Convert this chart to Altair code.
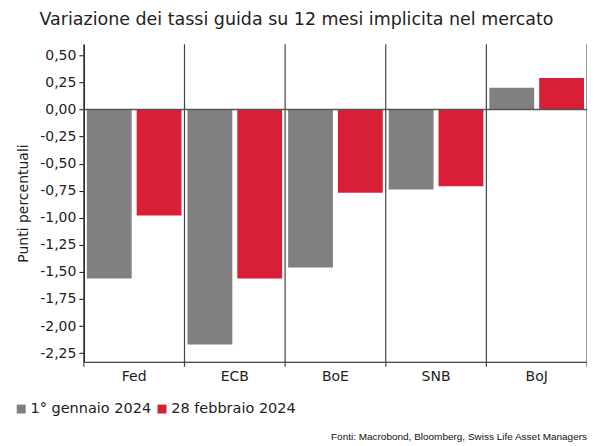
import altair as alt
import pandas as pd

categories = ["Fed", "ECB", "BoE", "SNB", "BoJ"]
series_names = ["1° gennaio 2024", "28 febbraio 2024"]
values_jan = [-1.56, -2.17, -1.46, -0.74, 0.20]
values_feb = [-0.98, -1.56, -0.77, -0.71, 0.29]
y_ticks = [0.5, 0.25, 0.0, -0.25, -0.5, -0.75, -1.0, -1.25, -1.5, -1.75, -2.0, -2.25]
title_text = "Variazione dei tassi guida su 12 mesi implicita nel mercato"
y_title = "Punti percentuali"
source_text = "Fonti: Macrobond, Bloomberg, Swiss Life Asset Managers"
colors = ["#808080", "#D91F36"]

rows = []
for c, a, b in zip(categories, values_jan, values_feb):
    rows.append({"cat": c, "serie": series_names[0], "val": a})
    rows.append({"cat": c, "serie": series_names[1], "val": b})
df = pd.DataFrame(rows)

W, H = 504, 318
FONT = "DejaVu Sans"

x_scale = alt.Scale(domain=categories, paddingInner=0, paddingOuter=0)
y_scale = alt.Scale(domain=[-2.33, 0.602], nice=False, zero=False)

x_axis = alt.Axis(title=None, ticks=False, grid=False, labelAngle=0,
                  labelPadding=8, labelFontSize=14, labelColor="#222",
                  domainColor="#111", domainWidth=1.2, labelFont=FONT)
y_axis = alt.Axis(title=y_title, values=y_ticks, grid=False, labelOverlap=False,
                  labelExpr="replace((datum.value < 0 ? '-' : '') + format(abs(datum.value), '.2f'), '.', ',')",
                  labelFontSize=14, labelColor="#222", labelFont=FONT,
                  labelPadding=3,
                  tickColor="#111", tickSize=5, domainColor="#111",
                  domainWidth=1.2, titleFontSize=14, titleFont=FONT,
                  titleFontWeight="normal", titleColor="#222",
                  titlePadding=9)

bars = alt.Chart(df).mark_bar().encode(
    x=alt.X("cat:N", scale=x_scale, sort=categories, axis=x_axis),
    xOffset=alt.XOffset("serie:N", sort=series_names,
                        scale=alt.Scale(paddingInner=0.1, paddingOuter=0.06)),
    y=alt.Y("val:Q", scale=y_scale, axis=y_axis),
    color=alt.Color("serie:N", sort=series_names,
                    scale=alt.Scale(domain=series_names, range=colors),
                    legend=alt.Legend(title=None, orient="none", direction="horizontal",
                                      legendX=-70, legendY=358, symbolType="square",
                                      symbolSize=80, symbolStrokeWidth=0,
                                      labelFontSize=14.5, labelFont=FONT,
                                      labelColor="#222", columnPadding=3,
                                      labelOffset=2, padding=0)),
)

edge_df = pd.DataFrame({"cat": categories})
seps = alt.Chart(edge_df).mark_rule(color="#444", strokeWidth=1.2).encode(
    x=alt.X("cat:N", scale=x_scale, sort=categories, bandPosition=0, axis=x_axis),
    y=alt.value(0),
    y2=alt.value(H + 5),
)
right_edge = alt.Chart(edge_df).mark_rule(color="#555", strokeWidth=1.2).encode(
    x=alt.value(W), y=alt.value(0), y2=alt.value(H + 5)
).transform_filter(alt.datum.cat == "Fed")

zero_df = pd.DataFrame({"val": [0.0]})
zero_line = alt.Chart(zero_df).mark_rule(color="#555", strokeWidth=1.5).encode(
    y=alt.Y("val:Q", scale=y_scale, axis=y_axis)
)

title_mark = alt.Chart(zero_df).mark_text(
    text=title_text, fontSize=17.5, font=FONT, color="#222", align="center",
    baseline="alphabetic"
).encode(x=alt.value(213), y=alt.value(-19))

source_mark = alt.Chart(zero_df).mark_text(
    text=source_text, fontSize=10, font="Liberation Sans", color="#111", align="right",
    baseline="middle"
).encode(x=alt.value(W), y=alt.value(H + 75))

chart = alt.layer(bars, seps, right_edge, zero_line, title_mark, source_mark).properties(
    width=W, height=H,
    autosize=alt.AutoSizeParams(type="none"),
    padding={"left": 76, "top": 36, "right": 0, "bottom": 82},
).configure_view(stroke=None).configure_axis(labelOverlap=False)

chart.save("out.html", embed_options={"renderer": "svg", "actions": False})
